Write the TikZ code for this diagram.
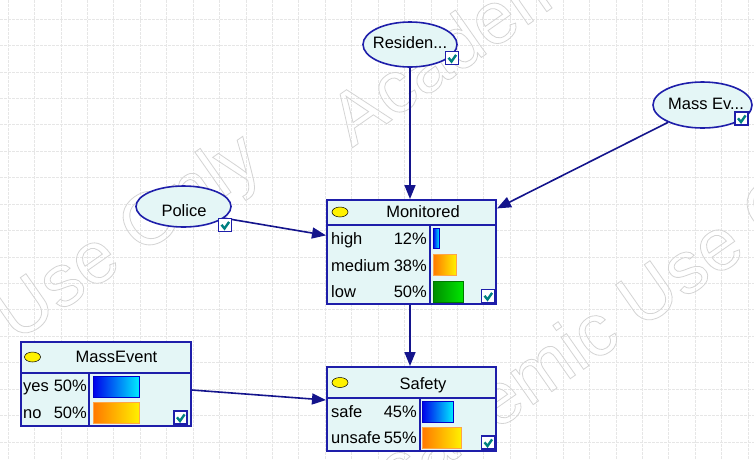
\documentclass[tikz,border=0pt]{standalone}
\usepackage{fontspec}
\setmainfont{Liberation Sans}
\usetikzlibrary{shapes.geometric,arrows.meta}

\definecolor{nodefill}{RGB}{228,246,246}
\definecolor{nodeline}{RGB}{30,30,170}
\definecolor{linkcol}{RGB}{20,20,140}
\definecolor{gridcol}{RGB}{230,230,230}
\definecolor{checkcol}{RGB}{0,128,128}
\definecolor{wmcol}{RGB}{212,212,212}
\definecolor{bluedark}{RGB}{0,0,235}
\definecolor{bluelight}{RGB}{0,235,255}
\definecolor{blueedge}{RGB}{0,0,200}
\definecolor{orangedark}{RGB}{255,120,0}
\definecolor{orangelight}{RGB}{255,240,0}
\definecolor{orangeedge}{RGB}{255,165,70}
\definecolor{greendark}{RGB}{0,140,0}
\definecolor{greenlight}{RGB}{0,230,0}
\definecolor{greenedge}{RGB}{0,120,0}

% outlined watermark text
\newcommand\wmtext{\special{pdf:literal direct 1 Tr 0.8 w}Academic Use Only\special{pdf:literal direct 0 Tr 0.4 w}}

% state check box, given by its top-left corner
\newcommand\tickbox[2]{%
  \draw[draw=nodeline, fill=white, line width=1.4pt] (#1,#2) rectangle ++(13,13);
  \draw[checkcol, line width=2.4pt] (#1+3,#2+6.3) -- (#1+6,#2+10) -- (#1+10.6,#2+3.4);
}

\tikzset{
  gridline/.style={gridcol, line width=0.6pt, dash pattern=on 2.5pt off 1.5pt},
  chance/.style={ellipse, draw=nodeline, fill=nodefill, line width=1.6pt, inner sep=0pt},
  monbox/.style={rectangle, draw=nodeline, fill=nodefill, line width=2pt, inner sep=0pt},
  sepline/.style={draw=nodeline, line width=2pt},
  lbl/.style={font=\fontsize{16.5}{19}\selectfont, inner sep=0pt, text=black},
  wm/.style={font=\fontsize{74}{80}\selectfont, inner sep=0pt, text=wmcol, rotate=35, anchor=base west},
  link/.style={draw=linkcol, line width=1.6pt, -{Triangle[length=14pt,width=11pt]}},
  lamp/.style={fill=yellow, draw=black, line width=0.5pt},
  barblue/.style={draw=blueedge, line width=0.8pt, left color=bluedark, right color=bluelight},
  barorange/.style={draw=orangeedge, line width=0.8pt, left color=orangedark, right color=orangelight},
  bargreen/.style={draw=greenedge, line width=0.8pt, left color=greendark, right color=greenlight},
}

\begin{document}
\begin{tikzpicture}[x=1pt,y=-1pt]
\useasboundingbox[fill=white] (0,0) rectangle (754,459);

% background grid
\foreach \i in {0,...,28} \draw[gridline] ({8+26.43*\i},0) -- ({8+26.43*\i},459);
\foreach \j in {0,...,16} \draw[gridline] (0,{19+26.43*\j}) -- (754,{19+26.43*\j});

% watermark
\node[wm] (wmA) at (352,148) {\wmtext};
\node[wm] (wmB) at (-267,541) {\wmtext};
\node[wm] (wmC) at (357,528) {\wmtext};

% collapsed nodes
\node[chance, minimum width=94pt, minimum height=45pt] (resid) at (410,44.5) {};
\node[chance, minimum width=99pt, minimum height=46pt] (massev) at (702.5,105) {};
\node[chance, minimum width=95pt, minimum height=41pt] (police) at (183.5,206.5) {};

% expanded nodes
\node[monbox, minimum width=169pt, minimum height=104pt] (mon) at (411.5,252) {};
\node[monbox, minimum width=169pt, minimum height=84pt] (safety) at (411.5,409) {};
\node[monbox, minimum width=170pt, minimum height=84pt] (mevent) at (106,384) {};

% links
\draw[link] (resid.south) -- (resid.south |- mon.north);
\draw[link] (massev) -- (mon.27.5);
\draw[link] (police.-16) -- (mon.169.3);
\draw[link] (mon.south -| resid.south) -- (resid.south |- safety.north);
\draw[link] (mevent.-4) -- (safety.174.6);

% labels of collapsed nodes
\node[lbl, anchor=base] (residT) at (410,48) {Residen...};
\node[lbl, anchor=base] (massevT) at (706,109) {Mass Ev...};
\node[lbl, anchor=base] (policeT) at (184,216) {Police};
\tickbox{445.5}{51.5}
\tickbox{735}{112}
\tickbox{218.5}{218.5}

% Monitored
\draw[sepline] (327,225) -- (496,225);
\draw[sepline] (430,225) -- (430,304);
\draw[lamp] (340,212) ellipse [x radius=8, y radius=5];
\node[lbl, anchor=base] (monT) at (423,217) {Monitored};
\node[lbl, anchor=base west] (monS1) at (331,244) {high};
\node[lbl, anchor=base east] (monP1) at (427,244) {12\%};
\node[lbl, anchor=base west] (monS2) at (331,271) {medium};
\node[lbl, anchor=base east] (monP2) at (427,271) {38\%};
\node[lbl, anchor=base west] (monS3) at (331,297) {low};
\node[lbl, anchor=base east] (monP3) at (427,297) {50\%};
\draw[barblue] (433,228) rectangle (439,248);
\draw[barorange] (433,254) rectangle (456,275);
\draw[bargreen] (433,281) rectangle (463,302);
\tickbox{481.5}{289.5}

% Safety
\draw[sepline] (327,398) -- (496,398);
\draw[sepline] (420,398) -- (420,451);
\draw[lamp] (340,382.5) ellipse [x radius=8, y radius=5];
\node[lbl, anchor=base] (safetyT) at (423,389) {Safety};
\node[lbl, anchor=base west] (safS1) at (331,417) {safe};
\node[lbl, anchor=base east] (safP1) at (417,417) {45\%};
\node[lbl, anchor=base west] (safS2) at (331,443) {unsafe};
\node[lbl, anchor=base east] (safP2) at (417,443) {55\%};
\draw[barblue] (422,401) rectangle (453,422);
\draw[barorange] (422,427) rectangle (461,448);
\tickbox{481.5}{436}

% MassEvent
\draw[sepline] (21,373) -- (191,373);
\draw[sepline] (89,373) -- (89,426);
\draw[lamp] (32.5,357) ellipse [x radius=8, y radius=5];
\node[lbl, anchor=base] (meventT) at (116.5,362) {MassEvent};
\node[lbl, anchor=base west] (meS1) at (23,391) {yes};
\node[lbl, anchor=base east] (meP1) at (87,391) {50\%};
\node[lbl, anchor=base west] (meS2) at (23,418) {no};
\node[lbl, anchor=base east] (meP2) at (87,418) {50\%};
\draw[barblue] (93,376) rectangle (139,397);
\draw[barorange] (93,402) rectangle (139,423);
\tickbox{174}{411}
\end{tikzpicture}
\end{document}
